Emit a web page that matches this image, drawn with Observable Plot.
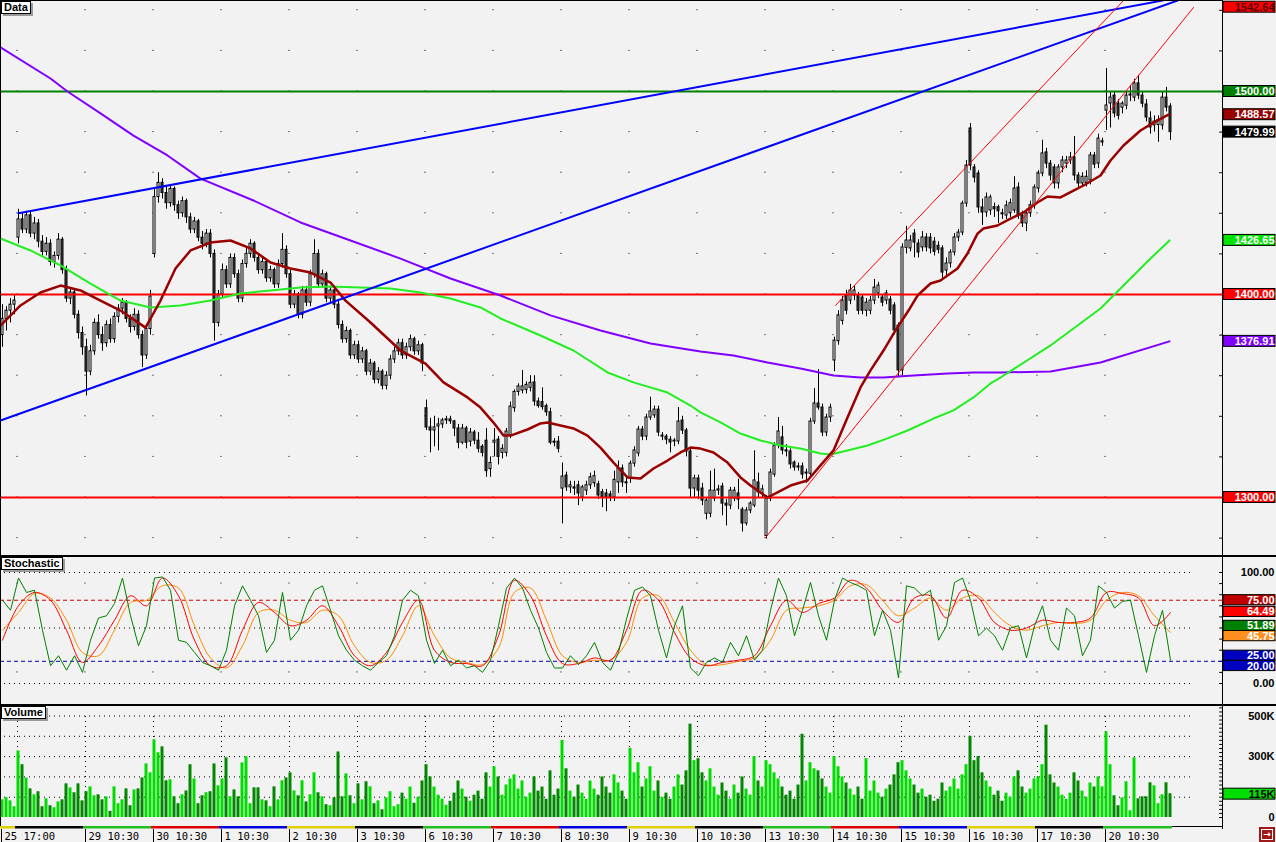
<!DOCTYPE html>
<html>
<head>
<meta charset="utf-8">
<script src="https://cdn.jsdelivr.net/npm/d3@7"></script>
<script src="https://cdn.jsdelivr.net/npm/@observablehq/plot@0.6"></script>
<style>
html,body{margin:0;padding:0;background:#f2f2f2;}
#wrap{position:relative;width:1276px;height:842px;overflow:hidden;background:#f2f2f2;}
#wrap svg{position:absolute;left:0;}
.sep{position:absolute;left:0;height:2px;background:#000;}
.title{position:absolute;left:1px;height:11px;background:#fff;border:1px solid #000;box-shadow:2px 2px 0 #9a9a9a;font:bold 11px "Liberation Sans",Arial,sans-serif;line-height:11px;padding:0 2px;color:#000;white-space:nowrap;}
#icon{position:absolute;left:1259px;top:827px;width:16px;height:15px;background:#a01818;color:#fff;font:bold 11px "DejaVu Sans",sans-serif;line-height:14px;text-align:center;}
#icon span{display:inline-block;border:1px solid #fff;line-height:9px;font-size:9px;padding:0 1px;margin-top:2px;}
</style>
</head>
<body>
<div id="wrap">
  <div class="sep" style="top:555px;width:1276px"></div>
  <div class="sep" style="top:704px;width:1276px"></div>
</div>
<script>
// ---------- candle data (one value per bar) ----------
const open = [1380,1388,1392,1395,1428,1437,1432,1439,1430,1435,1426,1421,1425,1416,1419,1427,1412,1398,1401,1390,1381,
1374,1362,1372,1386,1380,1376,1385,1378,1389,1393,1396,1388,1384,1390,1380,1370,1383,
1420,1448,1455,1450,1445,1452,1444,1440,1446,1438,1432,1436,1428,1425,1430,1420,1386,
1400,1412,1405,1418,1410,1398,1415,1420,1425,1418,1412,1416,1408,1412,1405,1415,1422,
1410,1395,1400,1390,1402,1396,1410,1420,1405,1410,1398,1402,1395,1385,1378,1382,1370,
1375,1368,1372,1362,1366,1358,1362,1355,1360,1368,1372,1376,1370,1374,1378,1372,1375,
1344,1334.5,1333,1335,1336,1338,1338.5,1337.5,1334,1327,1334,1327.5,1332,1328,1325,1328,1314,
1327,1328.5,1322,1322,1330.5,1344,1352,1352.7,1353,1354,1356.7,1347.3,1347,1345,1342,1327.5,1327.5,
1304.4,1310.8,1305,1305,1306,1300,1303.4,1306,1307,1306.5,1302.6,1302,1301.5,1300,1307.4,1314.3,1307.5,
1309.4,1316.7,1321.7,1333.5,1330,1339.4,1340.4,1343.3,1330,1330,1328.5,1327.6,1327.6,1337.9,1333,1322.7,1304.4,
1309.4,1304.4,1292,1292,1299.5,1303.4,1305.4,1297,1296,1299.5,1302,1294,1287.2,1293.6,1296,1307.4,1302,
1281,1299.5,1311.3,1325.6,1329.6,1323.2,1322.7,1317.2,1315.3,1315.3,1311.8,1311.7,1337.4,1346.3,1344.3,1332,1339.4,
1367.5,1377,1387,1399.5,1397,1399.5,1399.5,1398.5,1392,1392,1397,1400.5,1398.5,1397,1397.5,1394.6,1384.7,
1362.6,1423,1422.7,1430,1425.1,1423.2,1428.1,1428,1426,1424,1422.7,1411.8,1415.3,1420.7,1428.1,1430.5,1444.8,
1481.8,1462.6,1459.6,1442.9,1440.4,1441.4,1443,1443,1440,1438.9,1440,1441.4,1452.7,1438.9,1435,1440,1443.8,
1452.2,1459.6,1470,1464.5,1462.6,1454.7,1462.6,1464.5,1466,1467.5,1458.6,1454.7,1455,1456.2,1468.5,1464.5,1474.9,
1490.6,1494.1,1498,1494,1492,1493,1498,1497,1504,1498,1493.6,1486.7,1483.3,1483.5,1483.3,1497,1492.6];
const high = [1395,1394,1398,1400,1442,1440,1441,1441,1438,1437,1429,1428,1427,1421,1430,1428,1414,1403,1402,1392,1384,
1378,1375,1388,1390,1384,1387,1388,1391,1395,1398,1397,1390,1393,1392,1382,1385,1402,
1452,1460,1457,1453,1454,1453,1446,1448,1447,1440,1438,1437,1431,1432,1432,1422,1402,
1415,1414,1420,1420,1412,1417,1423,1427,1426,1420,1418,1417,1414,1413,1417,1430,1424,
1412,1402,1401,1404,1404,1412,1427,1422,1412,1411,1404,1403,1397,1387,1384,1383,1377,
1377,1374,1373,1368,1367,1364,1363,1362,1370,1374,1378,1378,1376,1380,1379,1377,1376,
1348,1339,1340,1339,1339,1340,1340,1338,1336,1336,1335,1334,1333,1332,1326,1334,1320,
1334,1330,1326,1334,1347,1353,1356,1362.6,1357,1360,1360,1349,1354,1346,1344,1329,1330,
1317,1312.5,1308,1308,1308,1306,1308,1312,1313,1308,1304,1304,1303,1313,1318,1316,1310,
1318,1325,1335,1335,1341,1349.4,1345,1345,1332,1331,1330,1329,1344.3,1340,1334,1324,1311,
1311,1307,1300,1313,1314,1306,1307,1299,1305,1305,1309,1295,1295,1298,1323,1312,1306,
1301,1314,1327,1339.4,1335,1326,1324,1318,1317,1317,1314,1339,1353.7,1363,1346,1341,1346,
1379,1392,1399,1402,1405,1404,1401,1400,1398,1399,1407.4,1406,1400,1402,1399,1396,1386,
1425,1433.6,1429,1432,1427,1431,1430,1430,1428,1426,1424,1418,1422,1430,1432,1446,1466,
1484.2,1464,1461,1447,1450,1449,1445,1444,1442,1446,1447,1458,1455,1441,1442,1446,1454,
1461,1476,1472,1466,1464,1464,1468,1468,1470,1477.8,1460,1460,1461,1470,1470,1479,1477,
1511.3,1500,1500,1496,1495,1500,1503,1506,1508,1500,1496,1490,1488,1488,1500,1502,1494];
const low = [1374,1382,1386,1390,1425,1430,1430,1428,1427,1423,1419,1419,1414,1413,1417,1410,1396,1395,1388,1378,1370,
1350,1360,1370,1378,1372,1374,1376,1376,1386,1390,1386,1381,1382,1378,1364,1368,1380,
1418,1445,1447,1442,1443,1441,1437,1438,1435,1430,1430,1426,1422,1423,1418,1377,1384,
1398,1403,1403,1408,1396,1396,1413,1418,1416,1410,1410,1406,1406,1403,1403,1413,1408,
1393,1393,1388,1388,1394,1394,1408,1403,1403,1396,1396,1393,1383,1376,1376,1368,1368,
1366,1366,1360,1360,1356,1356,1353,1353,1358,1366,1370,1368,1368,1372,1370,1370,1362,
1333,1322,1325,1323,1334,1336,1336,1330,1324,1326,1324,1325,1326,1322,1320,1310,1310,
1320,1316,1319,1320,1329,1342,1350,1351,1351,1352,1345,1344,1343,1340,1326,1325,1322,
1287,1303,1302,1301,1296,1298,1301,1304,1305,1299,1295,1293,1298,1298,1302,1305,1302,
1307,1315,1320,1328,1328,1338,1339,1330,1328,1326,1322,1325,1326,1331,1320,1300,1300,
1299,1296,1289,1290,1298,1301,1291,1286,1294,1298,1294,1283,1286,1292,1295,1300,1300,
1279.5,1298,1310,1324,1321,1320,1314,1313,1313,1309,1307,1310,1336,1343,1330,1330,1337,
1362,1375,1385,1390,1395,1397,1390,1390,1389,1390,1395,1398,1394,1395,1390,1380,1359,
1360,1420,1421,1418,1418,1421,1421,1420,1419,1420,1408,1409,1413,1419,1426,1429,1443,
1461,1455,1440,1434,1438,1439,1438,1435,1437,1437,1438,1440,1437,1433,1431,1438,1442,
1450,1458,1462,1456,1452,1452,1460,1462,1464,1456,1452,1453,1453,1454,1462,1462,1473,
1480.8,1482,1487,1486,1489,1491,1495,1495,1496,1492,1485,1479,1480,1475,1481,1490,1475.9];
const close = [1388,1392,1395,1397,1437,1432,1439,1430,1435,1426,1421,1425,1416,1419,1427,1412,1398,1401,1390,1381,1374,
1362,1372,1386,1380,1376,1385,1378,1389,1393,1396,1388,1384,1390,1380,1370,1383,1399,
1448,1455,1450,1445,1452,1444,1440,1446,1438,1432,1436,1428,1425,1430,1420,1386,1400,
1412,1405,1418,1410,1398,1415,1420,1425,1418,1412,1416,1408,1412,1405,1415,1422,1410,
1395,1400,1390,1402,1396,1410,1420,1405,1410,1398,1402,1395,1385,1378,1382,1370,1375,
1368,1372,1362,1366,1358,1362,1355,1360,1368,1372,1376,1370,1374,1378,1372,1375,1366,
1334.5,1333,1334.5,1336,1338,1338.5,1337.5,1334,1327,1334,1327,1332,1328,1324,1322,1313,1317,
1328,1320,1324,1332.5,1344.8,1352,1354.7,1354.7,1355.5,1356.5,1347.3,1345,1344.5,1342,1327,1327,1324,
1310.3,1305,1306,1304.4,1302,1305,1306,1310,1310.5,1301,1300,1300,1300,1308.7,1314.3,1307.4,1307,
1316.7,1323.2,1333.5,1330,1339.4,1342.4,1343.3,1332,1330.5,1328.5,1327.1,1328,1337.4,1333,1322.7,1304.4,1309.4,
1303.4,1298.5,1298.5,1303.4,1303.4,1304,1297,1296,1303.4,1303.4,1299,1287.2,1293.6,1297,1308.4,1302.5,1304,
1299.5,1312.3,1325.6,1332.5,1323.2,1322.7,1316.3,1314.8,1314.8,1311.3,1312.3,1337.4,1346.3,1344.3,1332,1339.4,1344.3,
1377.3,1389.7,1397,1392,1402,1402,1392,1392,1396,1397,1403.4,1404.4,1396,1400.5,1392,1382.3,1362.6,
1423.2,1426.6,1426.6,1425.6,1420.7,1428.1,1423.2,1422.7,1421,1422,1410.8,1415.3,1420.7,1428.1,1430.5,1444.8,1463.5,
1463.5,1457.6,1442.9,1440.4,1447.8,1447.8,1442,1441,1439.5,1443.8,1445,1452.2,1438.9,1435,1439.9,1444,1452.7,
1459.6,1469.5,1464.5,1458.6,1454.7,1462.6,1466,1466,1467.5,1458.6,1454.7,1458,1458,1468.5,1464,1476.8,1475.5,
1493.1,1497,1489.2,1488,1494,1498,1498.5,1504,1498,1494,1487.2,1482.3,1485.2,1486,1497,1492.1,1479.99];
// volume in thousands
const volume = [87,98,82,53,328,260,194,141,112,127,53,92,58,48,77,87,166,146,122,166,82,
127,151,107,112,87,102,30,151,68,87,141,58,136,141,195,264,220,
383,319,348,181,186,102,68,112,131,260,190,68,107,122,127,264,156,
190,294,102,136,102,269,299,68,146,146,87,82,53,151,87,181,195,
220,131,107,181,77,112,220,122,102,63,58,97,323,102,215,107,68,
166,87,176,151,68,82,38,97,127,53,63,120,90,150,70,100,180,
260,200,150,110,90,60,80,120,180,140,100,80,110,130,90,220,150,
250,200,110,160,190,210,140,180,100,120,200,130,150,90,230,110,140,
380,240,130,100,160,120,90,180,140,110,200,150,120,210,170,130,90,
340,220,270,150,190,250,130,180,100,120,90,150,210,160,230,460,280,
290,220,180,240,150,110,170,130,90,160,120,200,140,110,300,180,150,
280,260,220,190,150,110,130,90,160,410,180,270,240,230,190,150,120,
300,250,200,170,140,110,150,90,290,130,180,120,100,140,160,210,270,
280,230,190,160,120,140,100,110,80,90,170,130,150,190,140,210,260,
400,280,300,220,180,150,110,130,80,120,100,200,230,150,120,140,190,
200,260,455,210,170,150,110,90,120,220,180,130,100,170,150,200,151,
422,260,107,58,97,176,33,294,92,102,102,171,156,68,112,171,117];

// ---------- moving averages [bar index, price] ----------
const maRed = [[-0.5,1384.7],[4.5,1394.6],[9.5,1401],[14.5,1404.4],[19.5,1402],[24.5,1397],[29.5,1392.1],[35.75,1383.7],[39.5,1397],[43.25,1412.8],[47,1421.7],[52,1425.6],[57,1426.6],[62,1422.7],[67,1415.8],[72,1412.8],[77,1410.8],[82,1405.9],[85.75,1397],[92,1386.2],[99.5,1372.4],[105.75,1366],[110.25,1356.7],[116.25,1349.3],[119.5,1344.3],[122.75,1336.9],[125.25,1330.5],[127,1330.5],[131.25,1333.5],[134.5,1336.5],[136.25,1336.9],[139.5,1335.5],[142.75,1334],[146.25,1330.5],[149.5,1324.6],[152.75,1317.2],[156.25,1309.9],[159.5,1309.4],[162.75,1314.3],[166.25,1318.2],[169.5,1322.2],[172,1324.6],[174.5,1324.1],[177.75,1322.2],[181.25,1317.2],[184.5,1309.9],[187,1305.9],[191.25,1300],[193.75,1302.5],[197,1305.9],[199.5,1307.4],[201.25,1308.4],[204.5,1315.8],[207.75,1323.2],[211.25,1339.4],[214.5,1354.2],[217,1362.6],[220.25,1372.4],[223.25,1382.3],[226.5,1392.1],[228.75,1399.5],[232,1405.4],[234.5,1406.9],[238.75,1412.8],[241.25,1420.2],[243.75,1430],[245.25,1432.5],[248.75,1434],[252,1437.4],[255.25,1440.4],[258.75,1445.3],[261.25,1448.3],[264.5,1447.8],[267.75,1451.2],[270.25,1453.7],[274.5,1458.6],[277,1466],[280.25,1473.4],[284.5,1480.8],[287.75,1484.7],[291.5,1488.57]];
const maGreen = [[-0.5,1427.6],[7,1421.7],[14.5,1414.3],[22,1405.4],[29.5,1397],[37,1393.6],[44.5,1394.6],[52,1397],[59.5,1400.5],[67,1402],[74.5,1403.4],[82,1403.9],[89.5,1403.4],[97,1403],[104.5,1401],[112,1398],[119.5,1393.6],[124.5,1388.2],[134.5,1379.8],[142.75,1372.4],[151.25,1361.6],[157.75,1356.7],[166.25,1351.7],[172,1345.3],[174.5,1341.9],[179.5,1337],[184.5,1331.5],[189.5,1328.1],[194.5,1325.6],[199.5,1324.1],[204.5,1321.7],[207,1321.2],[211.25,1323.2],[216.25,1325.6],[221.25,1329.1],[226.25,1333],[232.75,1338.9],[237.75,1342.9],[242.75,1349.3],[247,1356.2],[249.5,1359.1],[262,1374.9],[274.5,1393.1],[277.75,1399.5],[287,1417.7],[291.75,1426.65]];
const maPurple = [[-0.5,1521.7],[12,1506.4],[16.25,1500],[24.5,1489.2],[32.75,1478.3],[41.25,1468.5],[49.5,1457.1],[62.75,1446.3],[74.5,1435.5],[87,1426.6],[99.5,1417.7],[112,1407.9],[124.5,1399.5],[137,1389.7],[149.5,1382.3],[162,1375.9],[174.5,1371.9],[182.75,1370],[191.25,1366.5],[199.5,1363.5],[207.75,1360.1],[214.5,1359.1],[220.25,1359.1],[227.75,1360.1],[236.25,1361.1],[242.75,1361.6],[249.5,1361.6],[262,1362.1],[274.5,1366.5],[291.75,1376.91]];

// ---------- drawn lines ----------
const trendA = [[4,1440],[290,1544.8]];
const trendB = [[-0.5,1337.9],[293.75,1544.8]];
const channelLow = [[190.75,1280.2],[297.75,1541.4]];
const channelHigh = [[208.25,1394.6],[280.25,1544.8]];
const levelGreen = [1500];
const levelRed = [1400, 1300];

// ---------- stochastic ----------
const stochGreen = [75,66,95,82,84,48,16,25,12,25,10,39,59,61,72,95,61,34,52,95,96,84,39,37,28,19,16,12,30,70,88,75,61,28,39,82,39,48,70,84,88,66,43,30,21,16,12,19,25,43,75,84,79,39,18,30,16,21,14,16,10,21,52,86,95,86,66,50,28,14,14,25,17,25,37,19,12,28,58,84,87,79,48,23,52,70,14,7,19,23,19,37,25,43,21,30,66,95,79,43,66,91,61,39,75,95,91,88,84,43,66,48,5,88,86,79,84,39,52,91,95,75,43,50,43,30,50,52,23,52,70,39,30,68,61,25,39,88,82,68,74,75,43,10,43,66,21]; // every 2 bars
const stochRed = [39,70,82,75,48,19,34,57,79,70,95,79,39,16,16,48,73,64,52,57,70,52,25,16,28,55,75,30,19,18,16,43,93,79,43,18,18,23,21,48,84,75,46,23,16,19,21,25,52,75,64,72,77,93,86,66,55,77,79,59,84,77,55,48,50,57,55,55,59,82,81,77,52,64]; // every 4 bars
const stochOrange = [48,64,81,77,57,28,25,48,73,75,88,86,52,23,14,34,64,66,57,55,66,61,34,19,21,43,70,43,23,19,17,32,82,86,57,25,19,21,21,37,77,79,55,30,17,17,20,23,39,66,68,70,75,88,89,75,61,68,77,66,77,79,64,52,48,52,55,54,57,75,82,79,61,46]; // every 4 bars

// ---------- axis / labels ----------
const dayStart = [0,4,21,38,55,72,89,106,123,140,157,174,191,208,225,242,259,276];
const dayColors = ["#e0d000","#000000","#20c020","#e00000","#0000e0"];
const labelIdx = [0,21,38,55,72,89,106,123,140,157,174,191,208,225,242,259,276];
const labelText = ["25 17:00","29 10:30","30 10:30","1 10:30","2 10:30","3 10:30","6 10:30","7 10:30","8 10:30","9 10:30","10 10:30","13 10:30","14 10:30","15 10:30","16 10:30","17 10:30","20 10:30"];
const priceLevels = d3.range(1280, 1541, 20);
const priceTagValues = [1542.64, 1500, 1488.57, 1479.99, 1426.65, 1400, 1376.91, 1300];
const priceTagFill = ["#ff0000","#008000","#990000","#000000","#00e400","#ff0000","#8000ff","#ff0000"];
const priceTagInk = ["#5a0000","#ffffff","#ffffff","#ffffff","#ffffff","#ffffff","#ffffff","#ffffff"];
const stochTagValues = [75, 64.49, 51.89, 45.75, 25, 20];
const stochTagFill = ["#c00000","#ff0000","#008000","#ff9020","#0000c0","#0000c0"];
const stochAxisValues = [100, 0];
const volAxisValues = [500, 300, 0];
const volAxisText = ["500K", "300K", "0"];
const volTag = 115;

// ---------- build ----------
const wrap = document.getElementById("wrap");
const candles = close.map((c, i) => ({i, o: open[i], h: high[i], l: low[i], c, v: volume[i], up: c >= open[i]}));
const XD = [-0.5, 305];
const base = {width: 1276, marginLeft: 0, marginRight: 54, marginTop: 0, marginBottom: 0,
  x: {domain: XD, axis: null}, color: {type: "identity"},
  style: {background: "transparent", overflow: "visible"}};
const LF = {fontFamily: "'Liberation Sans', Arial, sans-serif", fontWeight: "bold", fontSize: 11};
const BX1 = () => 305.25, BX2 = () => 318.25, TX = () => 318;
const gridCols = dayStart.slice(1).map(s => s - 0.25);
const cross = rows => gridCols.flatMap(x => rows.map(y => ({x, y})));
const P = {x: d => d[0], y: d => d[1]};

// label boxes: keep each box inside the panel and stack colliding boxes (no overlap)
function stackTags(vals, fills, inks, half, top, bottom) {
  const items = vals.map((v, k) => ({v, bg: fills[k], ink: inks ? inks[k] : "#ffffff", t: v.toFixed(2), c: v}))
    .sort((a, b) => b.v - a.v);
  let prev = top + half;               // highest allowed center is top - half
  for (const it of items) {
    it.c = Math.min(it.c, top - half, prev - 2 * half);
    it.c = Math.max(it.c, bottom + half);
    prev = it.c;
  }
  return items;
}
function place(svg, top) { svg.style.top = top + "px"; wrap.appendChild(svg); }

// price panel
const pTags = stackTags(priceTagValues, priceTagFill, priceTagInk, 2.7, 1544.83 - 0.6, 1271.43);
place(Plot.plot({...base, height: 555, y: {domain: [1271.43, 1544.83], axis: null},
  marks: [
    Plot.rect(cross(priceLevels), {x1: d => d.x - 0.125, x2: d => d.x + 0.125, y1: d => d.y - 0.25, y2: d => d.y + 0.25, fill: "#000"}),
    Plot.ruleY(priceLevels, {x1: () => 304.3, x2: () => 305, stroke: "#000"}),
    Plot.ruleX(candles, {x: "i", y1: "l", y2: "h", stroke: "#000"}),
    Plot.rect(candles, {x1: d => d.i - 0.25, x2: d => d.i + 0.25, y1: "o", y2: "c", fill: d => d.up ? "#ffffff" : "#404040", stroke: "#000", strokeWidth: 1}),
    Plot.ruleY(levelGreen, {stroke: "#008000", strokeWidth: 2}),
    Plot.ruleY(levelRed, {stroke: "#ff0000", strokeWidth: 2}),
    Plot.line(maPurple, {...P, stroke: "#8000ff", strokeWidth: 2}),
    Plot.line(maGreen, {...P, stroke: "#22ee22", strokeWidth: 2}),
    Plot.line(maRed, {...P, stroke: "#9b0000", strokeWidth: 2.5}),
    Plot.line(trendA, {...P, stroke: "#0000ff", strokeWidth: 2, clip: true}),
    Plot.line(trendB, {...P, stroke: "#0000ff", strokeWidth: 2, clip: true}),
    Plot.line(channelLow, {...P, stroke: "#ff0000", strokeWidth: 1, clip: true}),
    Plot.line(channelHigh, {...P, stroke: "#ff0000", strokeWidth: 1, clip: true}),
    Plot.ruleX([305], {stroke: "#000"}),
    Plot.ruleX([-0.5], {stroke: "#000"}),
    Plot.ruleY([1544.83], {stroke: "#000"}),
    Plot.rect(pTags, {x1: BX1, x2: BX2, y1: d => d.c - 2.7, y2: d => d.c + 2.7, fill: "bg", stroke: "#000"}),
    Plot.text(pTags, {x: TX, y: "c", text: "t", fill: "ink", textAnchor: "end", ...LF})
  ]}), 0);

// stochastic panel
const sTags = stackTags(stochTagValues, stochTagFill, null, 4.6, 113.5, -18.9);
const gPts = stochGreen.map((v, k) => [2 * k, v]);
const rPts = stochRed.map((v, k) => [4 * k, v]);
const oPts = stochOrange.map((v, k) => [4 * k, v]);
place(Plot.plot({...base, height: 147, y: {domain: [-18.9, 113.5], axis: null},
  marks: [
    Plot.rect(cross([90, 10]), {x1: d => d.x - 0.125, x2: d => d.x + 0.125, y1: d => d.y - 0.45, y2: d => d.y + 0.45, fill: "#000"}),
    Plot.ruleY([100, 50, 0], {x1: () => 0.5, x2: () => 298, stroke: "#000", strokeDasharray: "1,4"}),
    Plot.ruleY(d3.range(0, 101, 10), {x1: () => 304.3, x2: () => 305, stroke: "#000"}),
    Plot.ruleY([75], {stroke: "#cc0000", strokeDasharray: "4,3"}),
    Plot.ruleY([20], {stroke: "#0000bb", strokeDasharray: "4,3"}),
    Plot.line(oPts, {...P, stroke: "#ff8c00", strokeWidth: 1, curve: "catmull-rom"}),
    Plot.line(rPts, {...P, stroke: "#ff0000", strokeWidth: 1, curve: "catmull-rom"}),
    Plot.line(gPts, {...P, stroke: "#008000", strokeWidth: 1}),
    Plot.ruleX([305], {stroke: "#000"}),
    Plot.ruleX([-0.5], {stroke: "#000"}),
    Plot.text(stochAxisValues, {x: TX, y: d => d, text: d => d.toFixed(2), fill: "#000", textAnchor: "end", ...LF}),
    Plot.rect(sTags, {x1: BX1, x2: BX2, y1: d => d.c - 4.6, y2: d => d.c + 4.6, fill: "bg", stroke: "#000"}),
    Plot.text(sTags, {x: TX, y: "c", text: "t", fill: "ink", textAnchor: "end", ...LF})
  ]}), 557);

// volume panel
place(Plot.plot({...base, height: 120, y: {domain: [-44.3, 546.8], axis: null},
  marks: [
    Plot.ruleY([100, 200, 300, 400, 500], {x1: () => 0.5, x2: () => 298, stroke: "#000", strokeDasharray: "1,4"}),
    Plot.ruleX(gridCols, {y1: 0, y2: 500, stroke: "#000", strokeDasharray: "1,4"}),
    Plot.rect(candles, {x1: d => d.i - 0.375, x2: d => d.i + 0.375, y1: 0, y2: "v", fill: d => d.up ? "#00dc00" : "#008800"}),
    Plot.ruleY(d3.range(0, 541, 20), {x1: () => 304.3, x2: () => 305, stroke: "#000"}),
    Plot.ruleX([305], {stroke: "#000"}),
    Plot.ruleX([-0.5], {stroke: "#000"}),
    Plot.text(volAxisValues, {x: TX, y: d => d, text: (d, k) => volAxisText[k], fill: "#000", textAnchor: "end", ...LF}),
    Plot.rect([volTag], {x1: BX1, x2: BX2, y1: d => d - 27, y2: d => d + 27, fill: "#00dd00", stroke: "#000"}),
    Plot.text([volTag], {x: TX, y: d => d, text: d => d + "K", fill: "#000", textAnchor: "end", ...LF})
  ]}), 706);

// time axis band
const segs = dayStart.map((s, k) => ({a: k === 0 ? -0.5 : s - 0.75, b: k + 1 < dayStart.length ? dayStart[k + 1] - 0.75 : close.length - 0.5, c: dayColors[k % 5]}));
const labs = labelIdx.map((s, k) => ({x: s - 0.25, t: labelText[k]}));
place(Plot.plot({...base, height: 16, y: {domain: [16, 0], axis: null},
  marks: [
    Plot.ruleY([0], {x1: () => -0.5, x2: () => 305, stroke: "#000"}),
    Plot.rect(segs, {x1: "a", x2: "b", y1: 0, y2: 2.5, fill: "c"}),
    Plot.ruleX(labs, {x: "x", y1: 3, y2: 16, stroke: "#000"}),
    Plot.text(labs, {x: "x", y: 10, dx: 3, text: "t", textAnchor: "start", fill: "#000", fontFamily: "'DejaVu Sans Mono', monospace", fontSize: 10.5}),
    Plot.ruleX([305], {y1: 0, y2: 3, stroke: "#000"})
  ]}), 826);

// panel titles & corner icon
for (const [txt, top] of [["Data", 1], ["Stochastic", 557], ["Volume", 706]]) {
  const d = document.createElement("div"); d.className = "title"; d.style.top = top + "px"; d.textContent = txt; wrap.appendChild(d);
}
const ic = document.createElement("div"); ic.id = "icon"; ic.innerHTML = "<span>&#8594;</span>"; wrap.appendChild(ic);
</script>
</body>
</html>
